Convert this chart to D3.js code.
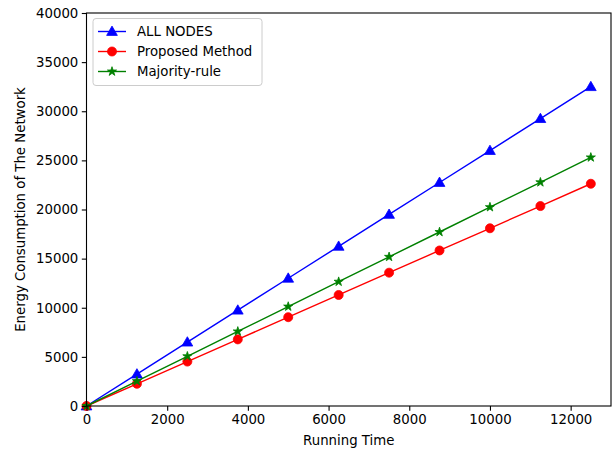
<!DOCTYPE html>
<html><head><meta charset="utf-8">
<script src="https://cdn.jsdelivr.net/npm/d3@7"></script>
<style>body{margin:0;background:#fff}svg{display:block}text{font-family:"DejaVu Sans",sans-serif;fill:#000}</style>
</head><body><svg id="c" width="613" height="451"></svg>
<script>
const runningTime = [0,1250,2500,3750,5000,6250,7500,8750,10000,11250,12500];
const allNodes = [0,3250,6500,9750,13000,16250,19500,22750,26000,29250,32500];
const proposed = [0,2260,4520,6780,9040,11300,13570,15830,18090,20350,22620];
const majority = [0,2530,5060,7590,10120,12650,15180,17710,20240,22770,25300];
const xTicks = [0,2000,4000,6000,8000,10000,12000];
const yTicks = [0,5000,10000,15000,20000,25000,30000,35000,40000];
const seriesNames = ["ALL NODES","Proposed Method","Majority-rule"];

const W=613,H=451, L=86.5, R=611, T=13, B=406;
const svg=d3.select("#c");
const x=d3.scaleLinear().domain([0,13000]).range([L,R]);
const y=d3.scaleLinear().domain([0,40000]).range([B,T]);
const fs=13.3;

const series=[
 {name:seriesNames[0],vals:allNodes,color:"#0000ff",marker:"tri"},
 {name:seriesNames[1],vals:proposed,color:"#ff0000",marker:"circle"},
 {name:seriesNames[2],vals:majority,color:"#008000",marker:"star"}
];
const sym={tri:d3.symbol(d3.symbolTriangle,50),circle:d3.symbol(d3.symbolCircle,64),star:d3.symbol(d3.symbolStar,26)};

const g=svg.append("g");
series.forEach(s=>{
  const line=d3.line().x((d,i)=>x(runningTime[i])).y(d=>y(d));
  g.append("path").datum(s.vals).attr("d",line).attr("fill","none").attr("stroke",s.color).attr("stroke-width",1.4);
  g.selectAll(null).data(s.vals).enter().append("path")
   .attr("transform",(d,i)=>`translate(${x(runningTime[i])},${y(d)+(s.marker==="tri"?0.8:0)})`)
   .attr("d",sym[s.marker]()).attr("fill",s.color).attr("stroke",s.color).attr("stroke-width",0.8);
});

// axes
const xa=svg.append("g").attr("transform",`translate(0,${B})`).call(d3.axisBottom(x).tickValues(xTicks).tickFormat(d3.format("d")).tickSize(4.7).tickPadding(3.5));
const ya=svg.append("g").attr("transform",`translate(${L},0)`).call(d3.axisLeft(y).tickValues(yTicks).tickFormat(d3.format("d")).tickSize(4.7).tickPadding(3.5));
[xa,ya].forEach(a=>{a.select(".domain").remove();a.selectAll("line").attr("stroke","#000").attr("stroke-width",1.1);a.selectAll("text").attr("font-size",fs).attr("font-family","DejaVu Sans").attr("fill","#000");});
svg.append("rect").attr("x",L).attr("y",T).attr("width",R-L).attr("height",B-T).attr("fill","none").attr("stroke","#000").attr("stroke-width",1.1);

svg.append("text").attr("x",(L+R)/2).attr("y",445).attr("text-anchor","middle").attr("font-size",fs).text("Running Time");
svg.append("text").attr("transform",`translate(25,${(T+B)/2}) rotate(-90)`).attr("text-anchor","middle").attr("font-size",fs).text("Energy Consumption of The Network");

// legend
const lg=svg.append("g");
lg.append("rect").attr("x",93).attr("y",18.5).attr("width",169).attr("height",67).attr("rx",3).attr("fill","#fff").attr("fill-opacity",0.8).attr("stroke","#cccccc").attr("stroke-width",1);
series.forEach((s,i)=>{
  const yy=31.5+i*20;
  lg.append("line").attr("x1",98).attr("x2",126).attr("y1",yy).attr("y2",yy).attr("stroke",s.color).attr("stroke-width",1.4);
  lg.append("path").attr("transform",`translate(112,${yy+(s.marker==="tri"?0.8:0)})`).attr("d",sym[s.marker]()).attr("fill",s.color).attr("stroke",s.color).attr("stroke-width",0.8);
  lg.append("text").attr("x",137).attr("y",yy+4.8).attr("font-size",fs).text(s.name);
});
</script></body></html>
